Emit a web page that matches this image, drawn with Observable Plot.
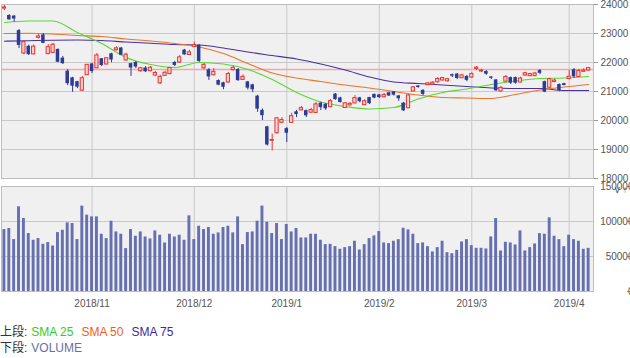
<!DOCTYPE html>
<html><head><meta charset="utf-8">
<script src="https://cdn.jsdelivr.net/npm/d3@7"></script>
<script src="https://cdn.jsdelivr.net/npm/@observablehq/plot@0.6"></script>
<style>
body{margin:0;background:#fff;font-family:"Liberation Sans",Arial,"Noto Sans CJK JP",sans-serif;}
#legend{margin-top:13px;font-size:12px;line-height:16px;color:#333;white-space:nowrap;}
#legend span.s{margin-left:4px;margin-right:4px;}
</style></head><body>
<div id="chart"></div>
<div id="legend"></div>
<script>
// ---- data ----
const monthLabels = ["2018/11","2018/12","2019/1","2019/2","2019/3","2019/4"];
const monthStartIdx = [18,39,58,77,96,116];
const priceTicks = [18000,19000,20000,21000,22000,23000,24000];
const volTicks = [0,50000,100000,150000];
const lastPriceLine = 21760;

const opens = [23860,23620,23600,23100,22310,22560,22280,22850,22950,22290,
22330,22450,22150,21700,21470,21340,21030,21560,21950,21800,
22130,21930,22300,22420,22500,22070,21960,22000,21700,21810,
21700,21550,21280,21540,21600,22000,22000,22430,22260,22540,
22590,21800,21750,21560,21380,21300,21310,21740,21760,21400,
21330,21230,20840,20350,19780,19300,19560,19920,19720,19920,
20300,20350,20340,20270,20260,20600,20560,20460,20910,20780,
20430,20520,20590,20780,20530,20790,20900,20880,20800,20960,
20990,20850,20600,20420,21000,21190,21040,21220,21240,21320,
21380,21350,21580,21600,21460,21520,21480,21780,21690,21690,
21500,21400,21000,21340,21480,21480,21310,21550,21530,21530,
21720,21340,21130,21330,21240,21270,21430,21750,21500,21680,21720];
const highs = [23966,23650,23620,23140,22760,22600,22600,22960,23000,22620,
22660,22470,22210,21760,21490,21350,21520,21930,21970,22310,
22140,22150,22320,22550,22520,22320,21970,22040,21830,21860,
21860,21690,21560,21700,21830,22040,22240,22450,22420,22700,
22620,21960,21790,21790,21400,21320,21660,21880,21790,21570,
21350,21250,20870,20400,19800,19530,20080,20100,19760,20250,
20350,20490,20360,20420,20620,20630,20590,20720,20930,20800,
20620,20620,20860,20800,20720,20800,20910,20900,20930,20970,
21000,20860,20620,20900,21170,21210,21060,21310,21340,21480,
21480,21450,21600,21620,21590,21550,21650,21860,21770,21720,
21520,21410,21170,21550,21500,21500,21490,21660,21630,21660,
21760,21360,21450,21420,21260,21280,21720,21790,21760,21790,21830];
const lows = [23790,23460,23390,22480,22270,22240,22260,22810,22650,22270,
22310,21990,21930,21200,20970,21100,21000,21550,21620,21790,
21860,21920,21990,22400,22240,22050,21520,21790,21660,21650,
21680,21530,21240,21520,21580,21860,21980,22250,22250,22510,
22000,21750,21380,21540,21200,21060,21290,21700,21350,21380,
21050,20960,20280,20000,19120,18950,19530,19900,19240,19900,
20100,20330,20100,20250,20240,20340,20350,20440,20700,20600,
20410,20500,20570,20610,20510,20550,20750,20760,20780,20830,
20840,20660,20310,20410,20990,21110,20860,21200,21220,21290,
21360,21330,21480,21410,21440,21340,21450,21720,21650,21560,
21410,21000,20990,21320,21240,21250,21300,21530,21510,21510,
21580,20960,21100,21300,20990,21200,21400,21450,21480,21660,21700];
const closes = [23900,23470,23500,22590,22700,22271,22549,22900,22660,22530,
22614,22010,21960,21268,21184,21149,21457,21920,21687,22243,
21898,22147,22085,22486,22250,22269,21810,21846,21803,21680,
21821,21640,21507,21646,21812,21900,22177,22262,22351,22600,
22036,21919,21501,21678,21219,21148,21602,21816,21374,21506,
21115,21061,20392,20166,19155,19327,20077,20015,19561,20150,
20204,20427,20163,20359,20555,20442,20402,20666,20719,20622,
20593,20574,20773,20649,20664,20580,20773,20788,20883,20844,
20874,20751,20333,20864,21144,21139,20900,21281,21302,21431,
21464,21425,21528,21449,21556,21385,21602,21822,21726,21596,
21456,21025,21125,21503,21290,21287,21450,21630,21600,21620,
21627,20977,21428,21378,21033,21205,21509,21505,21713,21724,21807];
const volumes = [88500,90000,74200,121000,104300,82800,73200,75600,67400,69900,
65000,84200,87500,98000,97100,74200,122000,109000,106600,106600,
81800,75600,100400,85100,81800,61300,88500,78900,85100,77900,
75100,86500,80400,69300,81800,77900,80400,73200,108100,74200,
93300,88500,91400,81800,83700,91400,93300,83700,106600,67000,
84200,85100,100400,122000,99000,82800,97100,74200,95700,85100,
90000,76500,76500,81800,81800,73200,67000,67400,64100,60300,
62700,64100,71800,59300,67000,75600,79400,85600,69400,68400,
71800,74100,90400,88000,81800,68400,69400,64100,56500,62700,
71800,55500,54000,58800,70800,74100,65500,61700,61700,60800,
78000,104300,57900,70300,69400,66500,86600,57900,62700,67900,
82700,81800,105200,78900,74100,64100,80400,74100,71800,60300,61700];

// moving averages read every 5 trading days
const smaIdx = [0,5,10,15,20,25,30,35,40,45,50,55,60,65,70,75,80,85,90,95,100,105,110,115,120];
const sma25 = [23379,23431,23431,23034,22655,22172,21931,21828,22000,21948,21759,21414,20966,20638,20483,20397,20448,20741,20966,21086,21241,21362,21448,21466,21517];
const sma50 = [23000,23010,22983,22931,22897,22810,22741,22655,22534,22310,21966,21638,21466,21345,21224,21121,21000,20879,20793,20776,20759,20897,21052,21155,21241];
const sma75 = [22734,22752,22769,22776,22759,22707,22665,22621,22603,22500,22362,22241,22121,21948,21741,21500,21328,21276,21224,21172,21121,21103,21103,21034,21034];

// ---- styles ----
const C = {
  up: "#e8342e", upFill: "#f8d2d0", down: "#2c3b96",
  s25: "#5ad832", s50: "#ec7428", s75: "#4a30a4",
  vol: "#6670b0", grid: "#c9c9c9", bg: "#f0f0f0", text: "#555", pink: "#f2a6a6"
};
const font = '"Liberation Sans", Arial, sans-serif';

const candles = closes.map((c, i) => ({i, o: opens[i], h: highs[i], l: lows[i], c, up: c >= opens[i]}));
const upC = candles.filter(d => d.up), dnC = candles.filter(d => !d.up);
const smaRows = (arr) => smaIdx.map((x, k) => ({x, v: arr[k]}));
const volRows = volumes.map((v, i) => ({i, v}));
const xDomain = [-0.6, 121];
const bodyMin = (d) => Math.min(d.o, d.c);
const bodyMax = (d) => Math.max(d.o, d.c) === Math.min(d.o, d.c) ? Math.max(d.o, d.c) + 15 : Math.max(d.o, d.c);

const upper = Plot.plot({
  width: 630, height: 182, marginTop: 4, marginBottom: 4, marginLeft: 1, marginRight: 37,
  style: {fontFamily: font, fontSize: "10px", color: C.text, background: "transparent"},
  x: {domain: xDomain, axis: null},
  y: {domain: [18000, 24000], axis: null},
  marks: [
    Plot.frame({fill: C.bg, stroke: "none"}),
    Plot.ruleY(priceTicks, {stroke: C.grid}),
    Plot.ruleX(monthStartIdx, {stroke: C.grid}),
    Plot.ruleY([lastPriceLine], {stroke: C.pink, strokeWidth: 1.6}),
    Plot.line(smaRows(sma75), {x: "x", y: "v", stroke: C.s75, strokeWidth: 1.1, curve: "monotone-x"}),
    Plot.line(smaRows(sma50), {x: "x", y: "v", stroke: C.s50, strokeWidth: 1.1, curve: "monotone-x"}),
    Plot.line(smaRows(sma25), {x: "x", y: "v", stroke: C.s25, strokeWidth: 1.1, curve: "monotone-x"}),
    Plot.ruleX(upC, {x: "i", y1: "l", y2: "h", stroke: C.up}),
    Plot.ruleX(dnC, {x: "i", y1: "l", y2: "h", stroke: C.down}),
    Plot.rect(upC, {x1: d => d.i - 0.33, x2: d => d.i + 0.33, y1: bodyMin, y2: bodyMax, fill: C.upFill, stroke: C.up, strokeWidth: 1}),
    Plot.rect(dnC, {x1: d => d.i - 0.36, x2: d => d.i + 0.36, y1: bodyMin, y2: bodyMax, fill: C.down}),
    Plot.frame({stroke: "#bdbdbd"}),
    Plot.axisY(priceTicks, {anchor: "right", tickSize: 4, tickPadding: 3, stroke: "#999", tickFormat: d => String(d), fill: C.text})
  ]
});

const lower = Plot.plot({
  width: 630, height: 129, marginTop: 4, marginBottom: 20, marginLeft: 1, marginRight: 37,
  style: {fontFamily: font, fontSize: "10px", color: C.text, background: "transparent"},
  x: {domain: xDomain, axis: null},
  y: {domain: [0, 150000], axis: null},
  marks: [
    Plot.frame({fill: C.bg, stroke: "none"}),
    Plot.ruleY(volTicks, {stroke: C.grid}),
    Plot.ruleX(monthStartIdx, {stroke: C.grid}),
    Plot.rect(volRows, {x1: d => d.i - 0.3, x2: d => d.i + 0.3, y1: d => 0, y2: "v", fill: C.vol}),
    Plot.frame({stroke: "#bdbdbd"}),
    Plot.axisY(volTicks, {anchor: "right", tickSize: 4, tickPadding: 3, stroke: "#999", textAnchor: "end", dx: 33, tickFormat: d => String(d), fill: C.text}),
    Plot.axisX(monthStartIdx, {tickSize: 0, tickPadding: 8, tickFormat: d => monthLabels[monthStartIdx.indexOf(d)], fill: C.text})
  ]
});

const chart = document.getElementById("chart");
chart.appendChild(upper);
chart.appendChild(lower);

const legend = document.getElementById("legend");
legend.innerHTML =
  '<div>上段:<span class="s" style="color:#33cc22">SMA 25</span><span class="s" style="color:#f06018">SMA 50</span><span class="s" style="color:#3a2aa0">SMA 75</span></div>' +
  '<div>下段:<span class="s" style="color:#6670a8">VOLUME</span></div>';
</script>
</body></html>
